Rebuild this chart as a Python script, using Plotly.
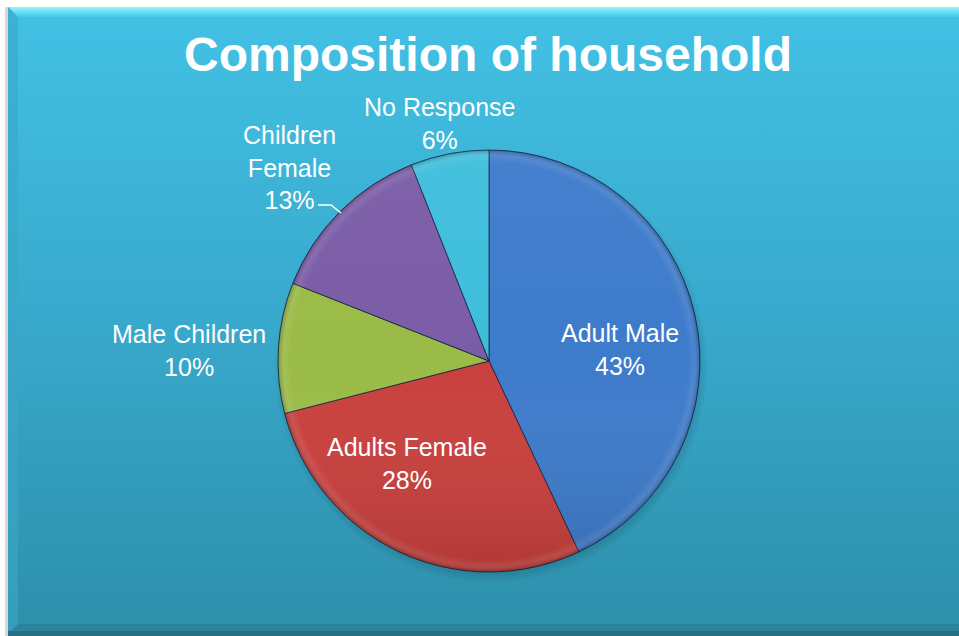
import base64
import plotly.graph_objects as go

# Household composition survey results (percent of respondents)
categories = ["Adult Male", "Adults Female", "Male Children", "Children Female", "No Response"]
label_text = ["Adult Male", "Adults Female", "Male Children", "Children<br>Female", "No Response"]
values = [43, 28, 10, 13, 6]
slice_colors = ["#3D7BCB", "#C9403D", "#9ABB47", "#7B5CA7", "#3EBEDC"]

# Data label anchors in pixels (block centre)
label_px = [(620, 349), (407, 463), (189, 350), (289, 167), (439, 124)]

W, H = 959, 636

# Pie placement (centre about 489,361 px, radius about 211 px)
cx, cy, r = 489, 361, 211
dom_x = [(cx - r) / W, (cx + r) / W]
dom_y = [(H - cy - r) / H, (H - cy + r) / H]

# Panel backdrop: teal gradient with a bevelled frame and a soft shadow under the pie
svg_bg = f"""<svg xmlns='http://www.w3.org/2000/svg' width='{W}' height='{H}' viewBox='0 0 {W} {H}'>
<defs>
 <linearGradient id='bg' x1='0' y1='0' x2='0' y2='1'>
  <stop offset='0' stop-color='#42C1E4'/>
  <stop offset='0.5' stop-color='#38A9CC'/>
  <stop offset='1' stop-color='#2D8FAA'/>
 </linearGradient>
 <linearGradient id='top' x1='0' y1='0' x2='0' y2='1'>
  <stop offset='0' stop-color='#8EF6FF'/>
  <stop offset='1' stop-color='#48C6E8'/>
 </linearGradient>
 <radialGradient id='shadow' cx='0.5' cy='0.5' r='0.5'>
  <stop offset='0.9' stop-color='#0A3040' stop-opacity='0.4'/>
  <stop offset='1' stop-color='#0A3040' stop-opacity='0'/>
 </radialGradient>
</defs>
<rect x='0' y='0' width='{W}' height='{H}' fill='#FFFFFF'/>
<rect x='5' y='7' width='3' height='{H - 7}' fill='#D8D8D8'/>
<rect x='8' y='7' width='{W - 8}' height='{H - 7}' fill='url(#bg)'/>
<polygon points='8,7 {W},7 {W},17 18,17' fill='url(#top)'/>
<polygon points='8,7 18,17 18,624 8,634' fill='#3AA7C6' opacity='0.6'/>
<polygon points='8,634 18,624 {W},624 {W},634' fill='#2A849E'/>
<rect x='8' y='631' width='{W - 8}' height='5' fill='#296F82'/>
<circle cx='{cx + 2}' cy='{cy + 5}' r='{r + 6}' fill='url(#shadow)'/>
</svg>"""

# Soft shading over the pie: slightly lighter at top, darker at bottom, bevelled rim
svg_fx = f"""<svg xmlns='http://www.w3.org/2000/svg' width='{W}' height='{H}' viewBox='0 0 {W} {H}'>
<defs>
 <linearGradient id='shade' x1='0' y1='0' x2='0' y2='1'>
  <stop offset='0' stop-color='#FFFFFF' stop-opacity='0.04'/>
  <stop offset='0.5' stop-color='#FFFFFF' stop-opacity='0'/>
  <stop offset='1' stop-color='#000000' stop-opacity='0.12'/>
 </linearGradient>
 <radialGradient id='rim' cx='0.5' cy='0.5' r='0.5'>
  <stop offset='0.94' stop-color='#FFFFFF' stop-opacity='0'/>
  <stop offset='0.97' stop-color='#FFFFFF' stop-opacity='0.08'/>
  <stop offset='1' stop-color='#000000' stop-opacity='0.22'/>
 </radialGradient>
</defs>
<circle cx='{cx}' cy='{cy}' r='{r}' fill='url(#shade)'/>
<circle cx='{cx}' cy='{cy}' r='{r}' fill='url(#rim)'/>
</svg>"""


def uri(svg):
    return "data:image/svg+xml;base64," + base64.b64encode(svg.encode("utf-8")).decode("ascii")


total = sum(values)
font = dict(family="Liberation Sans, Arial, sans-serif", size=25, color="white")

fig = go.Figure(
    go.Pie(
        labels=categories,
        values=values,
        textinfo="none",
        sort=False,
        direction="clockwise",
        rotation=0,
        marker=dict(colors=slice_colors, line=dict(color="rgba(20,35,60,0.8)", width=1)),
        domain=dict(x=dom_x, y=dom_y),
        hoverinfo="skip",
        showlegend=False,
    )
)

annotations = []
for txt, v, (px, py) in zip(label_text, values, label_px):
    annotations.append(
        dict(
            text=f"{txt}<br>{round(100 * v / total)}%",
            x=px / W,
            y=1 - py / H,
            xref="paper",
            yref="paper",
            xanchor="center",
            yanchor="middle",
            showarrow=False,
            font=font,
            align="center",
        )
    )

# Short leader line from the "Children Female" label to its slice
pts = [(318, 205), (331, 205), (341, 213)]
leader = dict(
    type="path",
    path="M " + " L ".join(f"{x / W:.5f},{1 - y / H:.5f}" for x, y in pts),
    xref="paper",
    yref="paper",
    line=dict(color="white", width=1.5),
)

fig.update_layout(
    width=W,
    height=H,
    margin=dict(l=0, r=0, t=0, b=0),
    paper_bgcolor="white",
    plot_bgcolor="rgba(0,0,0,0)",
    title=dict(
        text="<b>Composition of household</b>",
        x=488 / W,
        xanchor="center",
        y=1 - 54 / H,
        yanchor="middle",
        font=dict(family="Liberation Sans, Arial, sans-serif", size=48, color="white"),
    ),
    images=[
        dict(source=uri(svg_bg), xref="paper", yref="paper", x=0, y=1, sizex=1, sizey=1,
             xanchor="left", yanchor="top", sizing="stretch", layer="below"),
        dict(source=uri(svg_fx), xref="paper", yref="paper", x=0, y=1, sizex=1, sizey=1,
             xanchor="left", yanchor="top", sizing="stretch", layer="above"),
    ],
    shapes=[leader],
    annotations=annotations,
)

fig.write_html("out.html")
